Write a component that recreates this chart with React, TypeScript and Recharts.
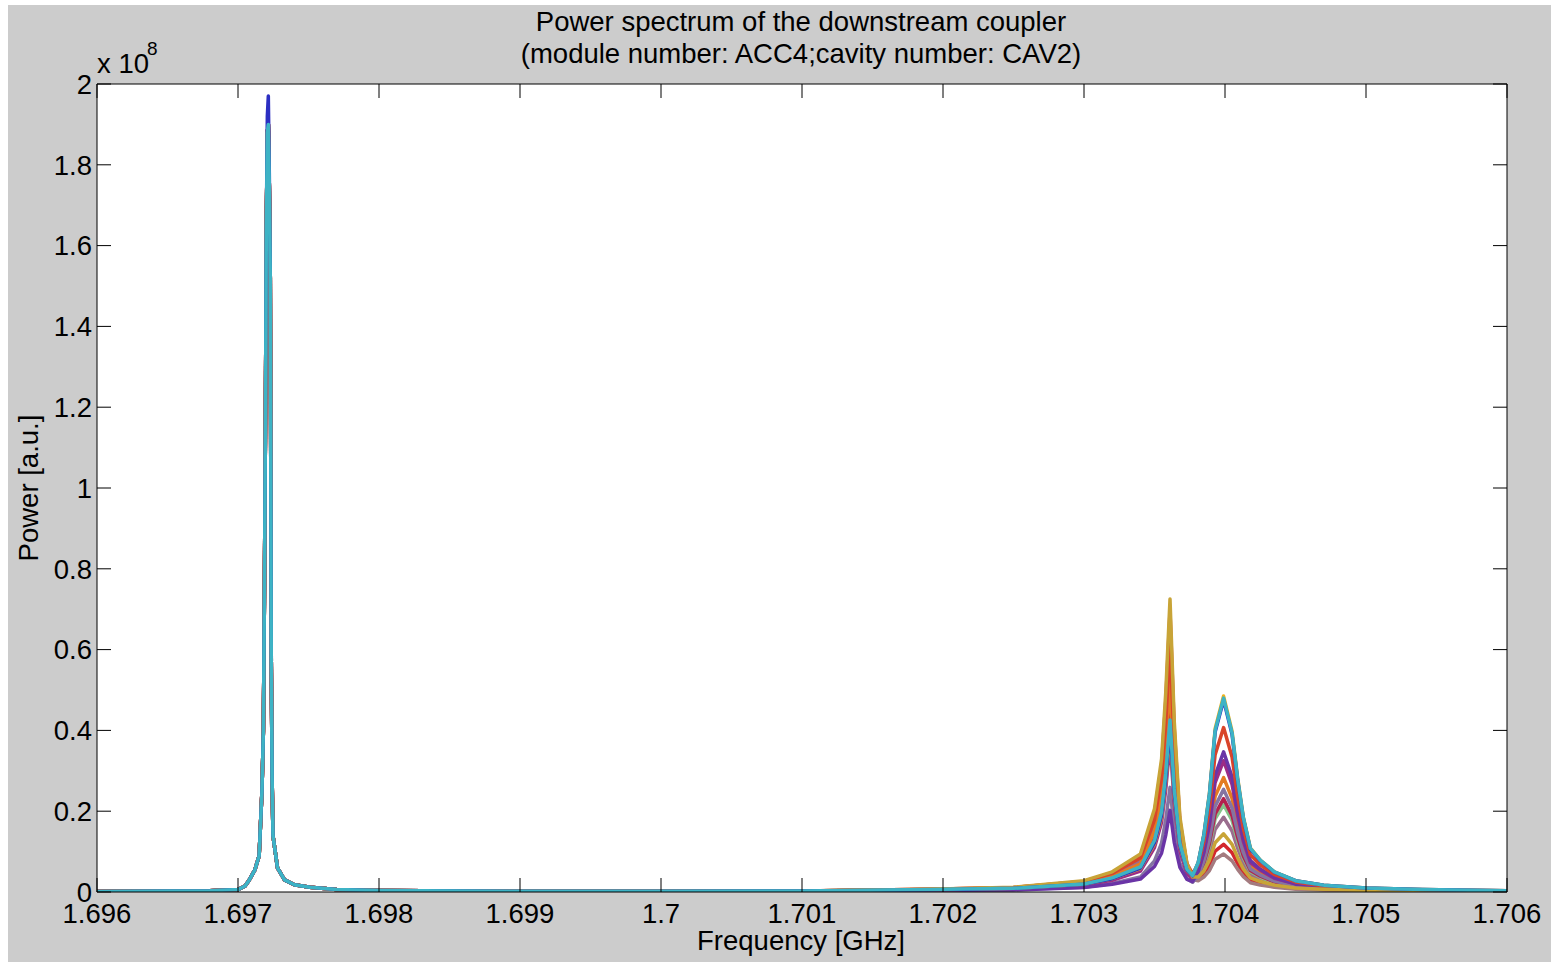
import React from 'react';
import { LineChart, Line, XAxis, YAxis, CartesianGrid } from 'recharts';

const FONT = '"Liberation Sans", Arial, Helvetica, sans-serif';
const FS = 27.5;

// ---- axes ----
const xTicks = [1.696, 1.697, 1.698, 1.699, 1.7, 1.701, 1.702, 1.703, 1.704, 1.705, 1.706];
const xTickLabels = ['1.696', '1.697', '1.698', '1.699', '1.7', '1.701', '1.702', '1.703', '1.704', '1.705', '1.706'];
const yTicks = [0, 20, 40, 60, 80, 100, 120, 140, 160, 180, 200]; // units of 1e6
const yTickLabels = ['0', '0.2', '0.4', '0.6', '0.8', '1', '1.2', '1.4', '1.6', '1.8', '2'];

// ---- narrow resonance near 1.6972 GHz (power in units of 1e6) ----
const mainFreq = [1.696, 1.6968, 1.697, 1.69705, 1.69708, 1.69712, 1.69715, 1.69717, 1.69718, 1.697187, 1.697194, 1.697201, 1.697208, 1.697215, 1.697222, 1.697229, 1.697236, 1.697242, 1.697248, 1.69728, 1.69733, 1.6974, 1.69751, 1.6977, 1.698, 1.699, 1.7, 1.701];
const mainPeak = [0.15, 0.3, 0.6, 1.5, 3, 5.5, 9, 25, 40, 72, 112, 165, 188, 190, 175, 152, 57, 28, 14, 6, 3, 1.8, 1.2, 0.6, 0.35, 0.2, 0.2, 0.25];
const mainPeakTip = [0.15, 0.3, 0.6, 1.5, 3, 5.5, 9, 25, 40, 72, 112, 165, 192, 197, 178, 152, 57, 28, 14, 6, 3, 1.8, 1.2, 0.6, 0.35, 0.2, 0.2, 0.25];

// ---- double resonance near 1.7036 / 1.7040 GHz ----
const twinFreq = [1.7019, 1.7025, 1.703, 1.7032, 1.7034, 1.7035, 1.70355, 1.70358, 1.70361, 1.70364, 1.70368, 1.70373, 1.70377, 1.70381, 1.70385, 1.70389, 1.70393, 1.70399, 1.70405, 1.70409, 1.70413, 1.70418, 1.70425, 1.70435, 1.7045, 1.7047, 1.705, 1.7054, 1.706];

const runRed = [0.7, 1.1, 2.6, 4.8, 8.9, 19.7, 31.5, 47.4, 69.5, 40.5, 17.7, 6.7, 3.4, 3.3, 4.4, 6.6, 10.1, 11.8, 9.7, 7.0, 4.7, 2.9, 2.1, 1.4, 0.9, 0.6, 0.4, 0.3, 0.2];
const runBrown = [0.6, 1.0, 2.4, 4.4, 8.3, 18.2, 29.1, 43.9, 64.4, 37.5, 16.4, 6.2, 3.1, 2.8, 3.7, 5.3, 8.1, 9.4, 7.7, 5.6, 3.8, 2.3, 1.7, 1.2, 0.7, 0.5, 0.3, 0.2, 0.1];
const runMauve = [0.6, 1.0, 2.2, 4.0, 7.5, 16.2, 25.8, 38.7, 56.7, 33.2, 14.7, 5.8, 3.2, 3.8, 6.1, 9.8, 15.5, 18.5, 15.1, 10.8, 7.2, 4.3, 3.2, 2.0, 1.2, 0.8, 0.5, 0.3, 0.2];
const runGreen = [0.5, 0.9, 2.0, 3.5, 6.5, 14.1, 22.3, 33.4, 48.8, 28.6, 12.8, 5.2, 3.1, 4.0, 6.8, 11.3, 18.1, 21.6, 17.7, 12.6, 8.4, 5.0, 3.7, 2.3, 1.4, 0.9, 0.5, 0.3, 0.2];
const runCrimson = [0.5, 0.9, 1.9, 3.4, 6.3, 13.5, 21.4, 32.1, 46.8, 27.5, 12.4, 5.1, 3.1, 4.2, 7.2, 12.0, 19.3, 23.1, 18.9, 13.5, 8.9, 5.3, 3.9, 2.5, 1.5, 0.9, 0.6, 0.4, 0.2];
const runOrange = [0.6, 1.0, 2.2, 3.8, 7.0, 15.1, 23.8, 35.6, 52.0, 30.6, 13.8, 5.7, 3.5, 5.0, 8.8, 14.7, 23.7, 28.3, 23.2, 16.5, 10.9, 6.4, 4.7, 3.0, 1.8, 1.1, 0.6, 0.4, 0.2];
const runGrey = [0.4, 0.6, 1.2, 2.1, 3.7, 7.7, 12.1, 17.9, 25.9, 15.4, 7.2, 3.3, 2.4, 4.0, 7.6, 13.0, 21.2, 25.4, 20.8, 14.8, 9.8, 5.7, 4.2, 2.7, 1.5, 1.0, 0.6, 0.3, 0.2];
const runMagenta = [0.5, 0.8, 1.7, 2.9, 5.2, 11.0, 17.2, 25.5, 37.1, 22.0, 10.2, 4.6, 3.1, 5.2, 9.7, 16.6, 27.1, 32.5, 26.6, 18.9, 12.5, 7.3, 5.4, 3.4, 2.0, 1.2, 0.7, 0.4, 0.2];
const runPurple = [0.4, 0.5, 1.1, 1.9, 3.2, 6.3, 9.6, 14.1, 20.2, 12.3, 6.1, 3.1, 2.6, 5.1, 10.1, 17.6, 28.9, 34.7, 28.5, 20.2, 13.3, 7.8, 5.7, 3.6, 2.0, 1.2, 0.7, 0.4, 0.2];
const runVermilion = [0.7, 1.1, 2.6, 4.6, 8.4, 17.9, 28.2, 42.1, 61.4, 36.2, 16.5, 7.0, 4.5, 6.8, 12.4, 20.9, 34.0, 40.7, 33.4, 23.7, 15.7, 9.2, 6.7, 4.3, 2.5, 1.5, 0.9, 0.5, 0.3];
const runGold = [0.7, 1.2, 2.8, 5.0, 9.4, 20.6, 32.9, 49.5, 72.5, 42.3, 18.6, 7.1, 3.7, 3.7, 5.2, 7.9, 12.2, 14.4, 11.8, 8.5, 5.7, 3.5, 2.6, 1.7, 1.0, 0.7, 0.4, 0.3, 0.2];
const runYellow = [0.5, 0.9, 1.9, 3.3, 5.8, 11.9, 18.5, 27.4, 39.6, 23.7, 11.3, 5.3, 4.0, 7.3, 14.2, 24.6, 40.4, 48.5, 39.8, 28.2, 18.6, 10.9, 7.9, 5.0, 2.8, 1.7, 1.0, 0.6, 0.3];
const runBlue = [0.5, 0.9, 1.9, 3.3, 5.9, 12.2, 19.0, 28.0, 40.6, 24.3, 11.5, 5.4, 4.0, 7.2, 14.0, 24.1, 39.6, 47.5, 39.0, 27.6, 18.2, 10.6, 7.8, 4.9, 2.8, 1.7, 1.0, 0.6, 0.3];
const runTeal = [0.6, 0.9, 2.0, 3.5, 6.2, 12.8, 19.9, 29.4, 42.6, 25.5, 12.0, 5.6, 4.1, 7.3, 14.1, 24.4, 40.0, 48.0, 39.4, 27.9, 18.4, 10.8, 7.9, 5.0, 2.8, 1.7, 1.0, 0.6, 0.3];

const runs = [runRed, runBrown, runMauve, runGreen, runCrimson, runOrange, runGrey, runMagenta, runPurple, runVermilion, runGold, runYellow, runBlue, runTeal];
const runColors = ['#d3272d', '#a47b7f', '#9a6d8e', '#86c38b', '#b4214e', '#e47b22', '#8474a2', '#9c2c86', '#6a34a6', '#d9442a', '#c8a437', '#efb21c', '#2c2fc2', '#3db3c5'];
const TIP_RUN = 12; // the run whose narrow peak tops out highest

const data: any[] = [
  ...mainFreq.map((f, i) => {
    const row: any = { f };
    runs.forEach((_, k) => {
      row['r' + k] = k === TIP_RUN ? mainPeakTip[i] : mainPeak[i];
    });
    return row;
  }),
  ...twinFreq.map((f, i) => {
    const row: any = { f };
    runs.forEach((r, k) => {
      row['r' + k] = r[i];
    });
    return row;
  }),
];

const W = 1543;
const H = 957;

export default function App() {
  const tickStyle = { fill: '#000', fontSize: FS, fontFamily: FONT };
  return (
    <div style={{ position: 'absolute', left: 8, top: 5, width: W, height: H, background: '#cccccc', overflow: 'hidden' }}>
      <LineChart width={W} height={H} data={data} margin={{ top: 69, right: 34, bottom: 30, left: 29 }}>
        <CartesianGrid horizontal={false} vertical={false} fill="#ffffff" stroke="none" />
        <XAxis
          dataKey="f"
          type="number"
          domain={[1.696, 1.706]}
          allowDataOverflow
          ticks={xTicks}
          interval={0}
          height={40}
          tickSize={-14}
          tickMargin={25}
          tickFormatter={(v: number) => xTickLabels[xTicks.findIndex((t) => Math.abs(t - v) < 1e-9)] ?? ''}
          tick={tickStyle}
          axisLine={{ stroke: '#000', strokeWidth: 1 }}
          tickLine={{ stroke: '#000', strokeWidth: 1 }}
        />
        <XAxis
          xAxisId="top"
          orientation="top"
          dataKey="f"
          type="number"
          domain={[1.696, 1.706]}
          allowDataOverflow
          ticks={xTicks}
          interval={0}
          height={10}
          tickSize={-14}
          tickFormatter={() => ''}
          axisLine={{ stroke: '#000', strokeWidth: 1 }}
          tickLine={{ stroke: '#000', strokeWidth: 1 }}
        />
        <YAxis
          type="number"
          domain={[0, 200]}
          allowDataOverflow
          ticks={yTicks}
          interval={0}
          width={60}
          tickSize={-14}
          tickMargin={19}
          tickFormatter={(v: number) => yTickLabels[yTicks.indexOf(v)] ?? ''}
          tick={tickStyle}
          axisLine={{ stroke: '#000', strokeWidth: 1 }}
          tickLine={{ stroke: '#000', strokeWidth: 1 }}
        />
        <YAxis
          yAxisId="right"
          orientation="right"
          type="number"
          domain={[0, 200]}
          allowDataOverflow
          ticks={yTicks}
          interval={0}
          width={10}
          tickSize={-14}
          tickFormatter={() => ''}
          axisLine={{ stroke: '#000', strokeWidth: 1 }}
          tickLine={{ stroke: '#000', strokeWidth: 1 }}
        />
        {runs.map((_, k) => (
          <Line
            key={k}
            dataKey={'r' + k}
            type="linear"
            stroke={runColors[k]}
            strokeWidth={3.5}
            strokeLinejoin="round"
            dot={false}
            activeDot={false}
            isAnimationActive={false}
          />
        ))}
      </LineChart>
      <svg width={W} height={H} style={{ position: 'absolute', left: 0, top: 0, pointerEvents: 'none' }}>
        <g fontFamily={FONT} fill="#000" fontSize={FS}>
          <text x={793} y={26} textAnchor="middle">Power spectrum of the downstream coupler</text>
          <text x={793} y={58} textAnchor="middle">(module number: ACC4;cavity number: CAV2)</text>
          <text x={793} y={945} textAnchor="middle">Frequency [GHz]</text>
          <text x={30} y={483} textAnchor="middle" transform="rotate(-90 30 483)">Power [a.u.]</text>
          <text x={89} y={68}>x 10</text>
          <text x={139} y={50} fontSize={19}>8</text>
        </g>
      </svg>
    </div>
  );
}
